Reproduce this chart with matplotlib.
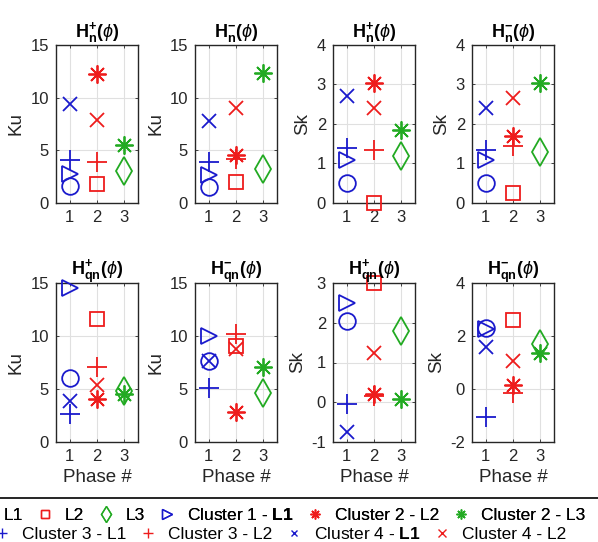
import matplotlib
matplotlib.use("Agg")
import matplotlib.pyplot as plt
from matplotlib.lines import Line2D
from matplotlib.patches import Rectangle

plt.rcParams['font.family'] = ['Liberation Sans', 'DejaVu Sans']
plt.rcParams['mathtext.fontset'] = 'custom'
plt.rcParams['mathtext.rm'] = 'Liberation Sans'
plt.rcParams['mathtext.bf'] = 'Liberation Sans:bold'
plt.rcParams['mathtext.it'] = 'Liberation Sans:italic'
plt.rcParams['axes.unicode_minus'] = False

# series: name, phase position, marker, colour
series_names = ['L1', 'L2', 'L3', 'Cluster 1 - L1', 'Cluster 2 - L2', 'Cluster 2 - L3',
                'Cluster 3 - L1', 'Cluster 3 - L2', 'Cluster 4 - L1', 'Cluster 4 - L2']
legend_labels = ['L1', 'L2', 'L3', r'Cluster 1 - $\mathbf{L1}$', 'Cluster 2 - L2', 'Cluster 2 - L3',
                 'Cluster 3 - L1', 'Cluster 3 - L2', r'Cluster 4 - $\mathbf{L1}$', 'Cluster 4 - L2']
phase_pos = [1, 2, 3, 1, 2, 3, 1, 2, 1, 2]

BLUE = '#1a1acc'
RED = '#ee1c1c'
GREEN = '#22aa22'
AST = (8, 2, 0)
markers = ['o', 's', 'd', '>', AST, AST, '+', '+', 'x', 'x']
colors = [BLUE, RED, GREEN, BLUE, RED, GREEN, BLUE, RED, BLUE, RED]
msizes = [12, 10, 14, 12, 13, 13, 14, 14, 10, 10]
leg_sizes = [7, 6, 8, 7, 7, 7, 7, 7, 5, 6]

# values per panel, order as series_names
ku_hn_plus = [1.6, 1.8, 3.0, 2.8, 12.2, 5.5, 4.1, 3.9, 9.4, 7.9]
ku_hn_minus = [1.5, 2.0, 3.2, 2.7, 4.6, 12.3, 3.9, 4.2, 7.8, 9.0]
sk_hn_plus = [0.5, 0.0, 1.2, 1.1, 3.05, 1.85, 1.4, 1.35, 2.7, 2.4]
sk_hn_minus = [0.5, 0.25, 1.3, 1.1, 1.7, 3.05, 1.35, 1.45, 2.4, 2.65]
ku_hqn_plus = [6.0, 11.6, 4.8, 14.5, 4.1, 4.5, 2.6, 7.1, 3.9, 5.4]
ku_hqn_minus = [7.6, 9.1, 4.6, 10.0, 2.8, 7.1, 5.1, 10.2, 7.6, 8.8]
sk_hqn_plus = [2.05, 3.0, 1.8, 2.5, 0.2, 0.08, -0.05, 0.15, -0.75, 1.25]
sk_hqn_minus = [2.3, 2.6, 1.7, 2.25, 0.15, 1.35, -1.05, -0.15, 1.6, 1.05]

panels = [
    (ku_hn_plus, 'Ku', r'$\mathbf{H^{+}_{n}(}\phi\mathbf{)}$', (0, 15), [0, 5, 10, 15]),
    (ku_hn_minus, 'Ku', r'$\mathbf{H^{-}_{n}(}\phi\mathbf{)}$', (0, 15), [0, 5, 10, 15]),
    (sk_hn_plus, 'Sk', r'$\mathbf{H^{+}_{n}(}\phi\mathbf{)}$', (0, 4), [0, 1, 2, 3, 4]),
    (sk_hn_minus, 'Sk', r'$\mathbf{H^{-}_{n}(}\phi\mathbf{)}$', (0, 4), [0, 1, 2, 3, 4]),
    (ku_hqn_plus, 'Ku', r'$\mathbf{H^{+}_{qn}(}\phi\mathbf{)}$', (0, 15), [0, 5, 10, 15]),
    (ku_hqn_minus, 'Ku', r'$\mathbf{H^{-}_{qn}(}\phi\mathbf{)}$', (0, 15), [0, 5, 10, 15]),
    (sk_hqn_plus, 'Sk', r'$\mathbf{H^{+}_{qn}(}\phi\mathbf{)}$', (-1, 3), [-1, 0, 1, 2, 3]),
    (sk_hqn_minus, 'Sk', r'$\mathbf{H^{-}_{qn}(}\phi\mathbf{)}$', (-2, 4), [-2, 0, 2, 4]),
]

W, H = 598, 542
fig = plt.figure(figsize=(W / 100, H / 100), dpi=100)

lefts = [56, 195, 333, 472]
rows = [(45, 203), (283, 442)]
DARK = '#262626'

for i, (vals, ylab, title, ylim, yticks) in enumerate(panels):
    top, bot = rows[i // 4]
    left = lefts[i % 4]
    ax = fig.add_axes([left / W, 1 - bot / H, 82 / W, (bot - top) / H])
    for j in range(len(series_names)):
        ax.plot(phase_pos[j], vals[j], linestyle='none', marker=markers[j],
                color=colors[j], markerfacecolor='none', markersize=msizes[j],
                markeredgewidth=1.3, clip_on=False, zorder=3)
    ax.set_xlim(0.5, 3.5)
    ax.set_ylim(*ylim)
    ax.set_xticks([1, 2, 3])
    ax.set_yticks(yticks)
    ax.grid(True, color='#e0e0e0', linewidth=0.8)
    ax.set_axisbelow(True)
    ax.tick_params(direction='in', length=2.5, width=0.6, colors=DARK, labelsize=12,
                   top=True, right=True, pad=5)
    for s in ax.spines.values():
        s.set_color(DARK)
        s.set_linewidth(1.0)
    ax.set_ylabel(ylab, fontsize=13.5, color=DARK, labelpad=4)
    ax.set_title(title, fontsize=13, color='black', pad=6)
    if i >= 4:
        ax.set_xlabel('Phase #', fontsize=13.5, color=DARK, labelpad=4)

# legend in two rows, wider than the figure like the original export
handles = [Line2D([], [], linestyle='none', marker=markers[j], color=colors[j],
                  markerfacecolor='none', markersize=leg_sizes[j], markeredgewidth=1.0)
           for j in range(len(series_names))]
leg_kw = dict(frameon=False, fontsize=12.5, handlelength=1.0, handletextpad=0.65,
              columnspacing=0.75, borderpad=0, borderaxespad=0, loc='center left')
leg1 = fig.legend(handles[:6], legend_labels[:6], ncol=6,
                  bbox_to_anchor=(-25 / W, 1 - 515 / H), **leg_kw)
fig.add_artist(leg1)
fig.legend(handles[6:], legend_labels[6:], ncol=4,
           bbox_to_anchor=(-7 / W, 1 - 534 / H), **leg_kw)

fig.add_artist(Rectangle((-0.05, -0.1), 1.1, 0.1 + 1 - 498 / H, transform=fig.transFigure,
                         fill=False, edgecolor='black', linewidth=1.2))

fig.savefig('out.png', dpi=100)
